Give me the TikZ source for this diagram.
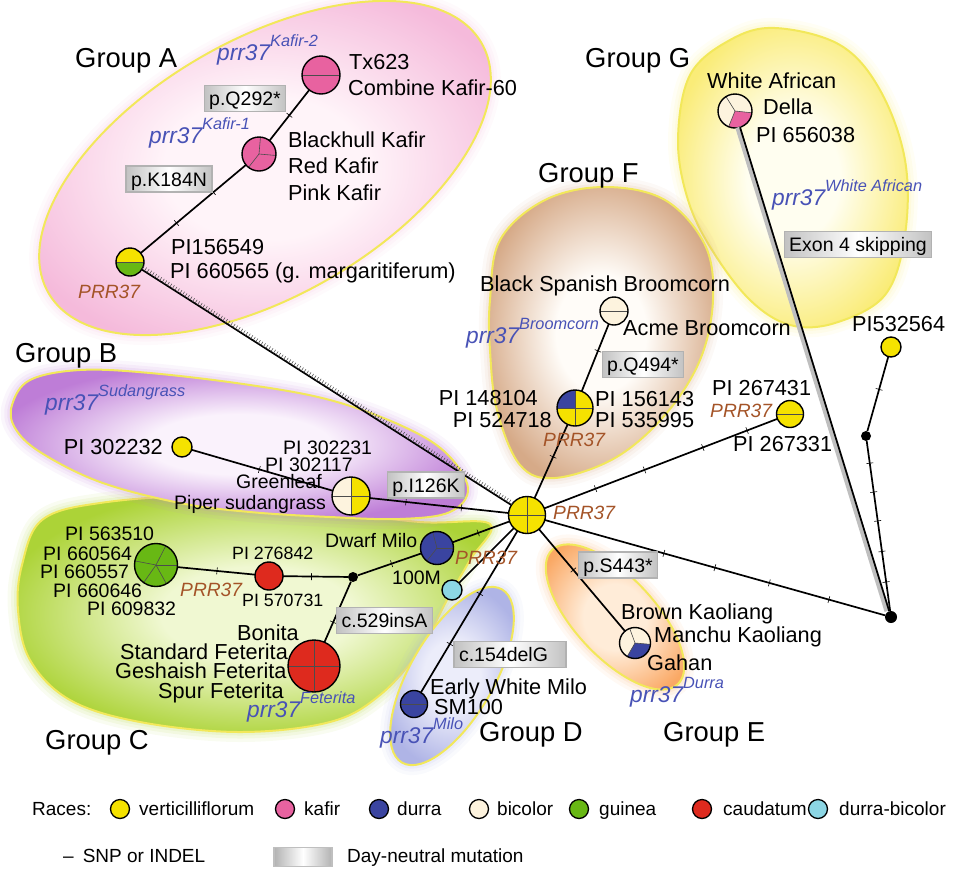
\documentclass[tikz,border=0pt]{standalone}
\usepackage{fontspec}
\setmainfont{Liberation Sans}
\usetikzlibrary{decorations.pathreplacing,decorations.markings}

\definecolor{cyel}{RGB}{245,226,0}
\definecolor{ckaf}{RGB}{232,98,160}
\definecolor{cdur}{RGB}{58,68,160}
\definecolor{cbic}{RGB}{253,243,222}
\definecolor{cgui}{RGB}{104,184,20}
\definecolor{ccau}{RGB}{222,42,30}
\definecolor{cdb}{RGB}{140,214,228}
\definecolor{prrblue}{RGB}{72,82,182}
\definecolor{prrbrown}{RGB}{164,84,40}
\definecolor{rim}{RGB}{242,232,90}
\definecolor{bpink}{RGB}{245,186,219}
\definecolor{ipink}{RGB}{255,244,249}
\definecolor{bpur}{RGB}{190,125,215}
\definecolor{ipur}{RGB}{250,242,252}
\definecolor{bgrn}{RGB}{172,211,55}
\definecolor{igrn}{RGB}{240,248,210}
\definecolor{bbrn}{RGB}{214,170,136}
\definecolor{ibrn}{RGB}{255,252,248}
\definecolor{bylw}{RGB}{250,236,120}
\definecolor{iylw}{RGB}{255,254,240}
\definecolor{blav}{RGB}{175,180,230}
\definecolor{ilav}{RGB}{236,237,250}
\definecolor{bora}{RGB}{250,168,100}
\definecolor{iora}{RGB}{255,236,216}
\colorlet{bin}{white}
\colorlet{bout}{gray}
\pgfdeclareradialshading[bin,bout]{blobshade}{\pgfpointorigin}{color(0bp)=(bin); color(10bp)=(bin); color(27bp)=(bout); color(50bp)=(bout)}

\newcommand{\prr}[1]{prr37\raisebox{14pt}{\fontsize{16.3}{17}\selectfont #1}}
\newcommand{\pcut}[1]{\draw[line width=.6pt, black!70] (path picture bounding box.center) -- ++(#1:40pt);}
\newcommand{\pfill}[3]{\fill[#1] (path picture bounding box.center) -- ++(#2:40pt) arc[start angle=#2, end angle=#3, radius=40pt] -- cycle;}

\tikzset{
  hap/.style={circle, draw, line width=1.4pt, inner sep=0pt, outer sep=0pt, minimum size=#1},
  dot/.style={circle, fill, inner sep=0pt, minimum size=#1},
  edge/.style={line width=1.7pt},
  snp/.style={postaction={decorate, decoration={markings, mark=at position #1 with {\draw[line width=.6pt] (0pt,-3.5pt) -- (0pt,3.5pt);}}}},
  lbl/.style={inner sep=0pt, font=\fontsize{21.7}{22}\selectfont, text height=15.5pt, text depth=0pt},
  lblm/.style={lbl, font=\fontsize{19.5}{20}\selectfont, text height=14pt},
  lbls/.style={lbl, font=\fontsize{17.8}{18}\selectfont, text height=12.8pt},
  grp/.style={lbl, font=\fontsize{27.4}{28}\selectfont, text height=19.6pt},
  leg/.style={lbl, font=\fontsize{19}{20}\selectfont, text height=13.6pt},
  allele/.style={inner sep=0pt, text=prrblue, font=\fontsize{22.7}{23}\selectfont\itshape, anchor=base west},
  wt/.style={lbl, text=prrbrown, font=\fontsize{19.2}{20}\selectfont\itshape, text height=13.8pt},
  mut/.style={draw=black!30, line width=1.3pt, left color=black!24, right color=black!24, middle color=white,
    inner xsep=5pt, inner ysep=6pt, font=\fontsize{19.5}{20}\selectfont, text height=14pt, text depth=0pt},
  blob/.style 2 args={draw=rim, line width=2pt, /utils/exec={\colorlet{bout}{#1}\colorlet{bin}{#2}},
    shade, shading=blobshade,
    preaction={draw=#1, line width=20pt, opacity=.07}, preaction={draw=#1, line width=13pt, opacity=.09},
    preaction={draw=#1, line width=7pt, opacity=.12}},
  key/.style={circle, draw, line width=1.3pt, inner sep=0pt, minimum size=19pt, fill=#1},
}

\begin{document}
\begin{tikzpicture}[x=1pt,y=-1pt]
\useasboundingbox (0,0) rectangle (953,868);

\path[blob={bpink}{ipink}, rotate around={30:(265,168)}] (265,168) ellipse[x radius=250pt, y radius=128pt];
\path[blob={bylw}{iylw}] plot[smooth cycle, tension=.6] coordinates {(678,140) (690,75) (730,40) (775,28) (840,45) (880,90) (905,160) (905,235) (885,295) (835,323) (790,325) (750,300) (712,250) (688,200)};
\path[blob={bbrn}{ibrn}] plot[smooth cycle, tension=.6] coordinates {(490,300) (500,240) (545,200) (605,187) (665,200) (705,245) (713,300) (700,360) (665,415) (615,458) (555,478) (520,465) (497,410) (490,350)};
\path[blob={bgrn}{igrn}] plot[smooth cycle, tension=.6] coordinates {(22,565) (42,520) (100,503) (200,497) (320,510) (420,522) (490,524) (470,560) (447,600) (420,650) (380,695) (330,722) (240,732) (140,722) (70,700) (30,660) (18,610)};
\path[blob={bpur}{ipur}] plot[smooth cycle, tension=.6] coordinates {(12,405) (30,380) (80,370) (150,373) (250,385) (330,400) (400,425) (445,452) (468,488) (450,512) (400,519) (330,517) (250,512) (180,503) (100,482) (40,452) (15,428)};
\path[blob={blav}{ilav}, rotate around={60:(452,676)}] (452,676) ellipse[x radius=100pt, y radius=42pt];
\path[blob={bora}{iora}, rotate around={-47:(615,617)}] (615,617) ellipse[x radius=92pt, y radius=40pt];

\node[hap=37pt, fill=cyel, path picture={\pcut{0}\pcut{90}\pcut{180}\pcut{270}}] (hub) at (527,515) {};
\node[hap=38pt, fill=ckaf, path picture={\pcut{0}\pcut{180}}] (tx) at (321,75) {};
\node[hap=34pt, fill=ckaf, path picture={\pcut{85}\pcut{-5}\pcut{232}}] (bh) at (259,154) {};
\node[hap=28pt, fill=cgui, path picture={\pfill{cyel}{0}{180}\pcut{0}\pcut{180}}] (pig) at (130,262) {};
\node[hap=34pt, fill=cbic, path picture={\pfill{ckaf}{-112}{-6}\pcut{122}\pcut{-6}\pcut{-112}}] (wa) at (735,111) {};
\node[hap=28pt, fill=cbic, path picture={\pcut{0}\pcut{180}}] (acme) at (614,311) {};
\node[hap=36pt, fill=cyel, path picture={\pfill{cdur}{90}{180}\pcut{0}\pcut{90}\pcut{180}\pcut{270}}] (pib) at (575,408) {};
\node[hap=27pt, fill=cyel, path picture={\pcut{0}\pcut{180}}] (piy) at (790,414) {};
\node[hap=20pt, fill=cyel] (pis) at (891,347) {};
\node[dot=10pt] (mdot) at (866,436) {};
\node[dot=12pt] (rdot) at (891,617) {};
\node[hap=38pt, fill=cyel, path picture={\pfill{cbic}{90}{270}\pcut{0}\pcut{90}\pcut{180}\pcut{270}}] (piper) at (351,496) {};
\node[hap=20pt, fill=cyel] (pia) at (182,447) {};
\node[hap=43pt, fill=cgui, path picture={\pcut{0}\pcut{63}\pcut{169}\pcut{235}\pcut{299}}] (gui) at (156,565) {};
\node[hap=28pt, fill=ccau] (cau) at (269,576) {};
\node[dot=10pt] (jdot) at (353,577) {};
\node[hap=33pt, fill=cdur, path picture={\pcut{105}\pcut{0}\pcut{232}}] (milo) at (437,548) {};
\node[hap=52pt, fill=ccau, path picture={\pcut{0}\pcut{90}\pcut{180}\pcut{270}}] (bon) at (314,666) {};
\node[hap=20pt, fill=cdb] (db) at (452,590) {};
\node[hap=27pt, fill=cdur, path picture={\pcut{0}\pcut{180}}] (ewm) at (414,704) {};
\node[hap=31pt, fill=cbic, path picture={\pfill{cdur}{-120}{-5}\pcut{110}\pcut{-5}\pcut{-120}}] (bk) at (635,643) {};

\draw[edge, snp=.5] (tx) -- (bh);
\draw[edge, snp=.31, snp=.66] (bh) -- (pig);
\draw[edge, postaction={draw=black!70, line width=.55pt, decorate, decoration={ticks, segment length=3pt, amplitude=2pt, raise=2.2pt}}] (pig) -- (hub);
\draw[line width=5.5pt, black!25, transform canvas={xshift=-2pt}] (wa) -- (rdot);
\draw[edge] (wa) -- (rdot);
\draw[edge, snp=.40] (acme) -- (pib);
\draw[edge, snp=.44] (pib) -- (hub);
\draw[edge, snp=.22, snp=.43, snp=.68, snp=.87] (hub) -- (piy);
\draw[edge, snp=.35, snp=.50, snp=.66, snp=.835] (hub) -- (rdot);
\draw[edge, snp=.13, snp=.30, snp=.47, snp=.65, snp=.83] (mdot) -- (rdot);
\draw[edge, snp=.56] (mdot) -- (pis);
\draw[edge, snp=.48] (pia) -- (piper);
\draw[edge, snp=.26, snp=.66] (piper) -- (hub);
\draw[edge, snp=.51] (gui) -- (cau);
\draw[edge, snp=.44] (cau) -- (jdot);
\draw[edge, snp=.53] (jdot) -- (milo);
\draw[edge, snp=.67] (jdot) -- (bon);
\draw[edge, snp=.45] (milo) -- (hub);
\draw[edge] (hub) -- (db);
\draw[edge, snp=.39, snp=.70] (hub) -- (ewm);
\draw[edge, snp=.40] (hub) -- (bk);

\node[grp, anchor=west] (gA) at (75,58) {Group A};
\node[grp, anchor=west] (gB) at (15,353) {Group B};
\node[grp, anchor=west] (gC) at (45,740) {Group C};
\node[grp, anchor=west] (gD) at (479,732) {Group D};
\node[grp, anchor=west] (gE) at (663,732) {Group E};
\node[grp, anchor=west] (gF) at (538,173) {Group F};
\node[grp, anchor=west] (gG) at (585,58) {Group G};

\node[lbl, anchor=west] (l1) at (349,62) {Tx623};
\node[lbl, anchor=west] (l2) at (348,88) {Combine Kafir-60};
\node[lbl, anchor=west] (l3) at (288,140) {Blackhull Kafir};
\node[lbl, anchor=west] (l4) at (288,166) {Red Kafir};
\node[lbl, anchor=west] (l5) at (288,193) {Pink Kafir};
\node[lbl, anchor=west] (l6) at (171,247) {PI156549};
\node[lbl, anchor=west] (l7) at (170,271) {PI 660565 (g. margaritiferum)};
\node[lbl, anchor=west] (l8) at (707,81) {White African};
\node[lbl, anchor=west] (l9) at (763,107) {Della};
\node[lbl, anchor=west] (l10) at (756,135) {PI 656038};
\node[lbl, anchor=west] (l11) at (480,284) {Black Spanish Broomcorn};
\node[lbl, anchor=west] (l12) at (623,328) {Acme Broomcorn};
\node[lbl, anchor=east] (l13) at (538,398) {PI 148104};
\node[lbl, anchor=east] (l14) at (552,420) {PI 524718};
\node[lbl, anchor=west] (l15) at (595,399) {PI 156143};
\node[lbl, anchor=west] (l16) at (595,420) {PI 535995};
\node[lbl, anchor=west] (l17) at (712,388) {PI 267431};
\node[lbl, anchor=west] (l18) at (733,444) {PI 267331};
\node[lbl, anchor=west] (l19) at (852,324) {PI532564};
\node[lbl, anchor=east] (l20) at (163,447) {PI 302232};
\node[lblm, anchor=west] (l21) at (283,447) {PI 302231};
\node[lblm, anchor=west] (l22) at (265,464) {PI 302117};
\node[lblm, anchor=west] (l23) at (236,481) {Greenleaf};
\node[lblm, anchor=west] (l24) at (174,502) {Piper sudangrass};
\node[lblm, anchor=west] (l25) at (65,533) {PI 563510};
\node[lblm, anchor=west] (l26) at (43,553) {PI 660564};
\node[lblm, anchor=west] (l27) at (40,571) {PI 660557};
\node[lblm, anchor=west] (l28) at (53,590) {PI 660646};
\node[lblm, anchor=west] (l29) at (87,608) {PI 609832};
\node[lbls, anchor=west] (l30) at (232,553) {PI 276842};
\node[lbls, anchor=west] (l31) at (242,600) {PI 570731};
\node[lblm, anchor=west] (l32) at (325,540) {Dwarf Milo};
\node[lblm, anchor=west] (l33) at (392,577) {100M};
\node[lbl, anchor=west] (l34) at (237,633) {Bonita};
\node[lbl, anchor=west] (l35) at (120,652) {Standard Feterita};
\node[lbl, anchor=west] (l36) at (115,671) {Geshaish Feterita};
\node[lbl, anchor=west] (l37) at (158,691) {Spur Feterita};
\node[lbl, anchor=west] (l38) at (430,687) {Early White Milo};
\node[lbl, anchor=west] (l39) at (434,707) {SM100};
\node[lbl, anchor=west] (l40) at (621,612) {Brown Kaoliang};
\node[lbl, anchor=west] (l41) at (654,635) {Manchu Kaoliang};
\node[lbl, anchor=west] (l42) at (647,663) {Gahan};

\node[wt, anchor=west] (w1) at (78,292) {PRR37};
\node[wt, anchor=west] (w2) at (543,440) {PRR37};
\node[wt, anchor=west] (w3) at (710,411) {PRR37};
\node[wt, anchor=west] (w4) at (553,513) {PRR37};
\node[wt, anchor=west] (w5) at (455,558) {PRR37};
\node[wt, anchor=west] (w6) at (180,590) {PRR37};

\node[allele] (a1) at (217,60) {\prr{Kafir-2}};
\node[allele] (a2) at (149,143) {\prr{Kafir-1}};
\node[allele] (a3) at (772,205) {\prr{White African}};
\node[allele] (a4) at (466,343) {\prr{Broomcorn}};
\node[allele] (a5) at (45,410) {\prr{Sudangrass}};
\node[allele] (a6) at (247,717) {\prr{Feterita}};
\node[allele] (a7) at (380,743) {\prr{Milo}};
\node[allele] (a8) at (630,702) {\prr{Durra}};

\node[mut] (m1) at (245,98.5) {p.Q292*};
\node[mut] (m2) at (169,179) {p.K184N};
\node[mut] (m3) at (858,244.5) {Exon 4 skipping};
\node[mut] (m4) at (643,364.5) {p.Q494*};
\node[mut] (m5) at (426,485) {p.I126K};
\node[mut] (m6) at (384.5,620.5) {c.529insA};
\node[mut] (m7) at (510,654.5) {c.154delG\hspace*{13pt}};
\node[mut] (m8) at (618,565) {p.S443*};

\node[leg, anchor=west] (races) at (32,809) {Races:};
\node[key=cyel] (k1) at (120,809) {};
\node[leg, anchor=west] (t1) at (139,809) {verticilliflorum};
\node[key=ckaf] (k2) at (285,809) {};
\node[leg, anchor=west] (t2) at (304,809) {kafir};
\node[key=cdur] (k3) at (379,809) {};
\node[leg, anchor=west] (t3) at (397,809) {durra};
\node[key=cbic] (k4) at (479,809) {};
\node[leg, anchor=west] (t4) at (497,809) {bicolor};
\node[key=cgui] (k5) at (579,809) {};
\node[leg, anchor=west] (t5) at (599,809) {guinea};
\node[key=ccau] (k6) at (702,809) {};
\node[leg, anchor=west] (t6) at (723,809) {caudatum};
\node[key=cdb] (k7) at (818,809) {};
\node[leg, anchor=west] (t7) at (839,809) {durra-bicolor};
\node[leg, anchor=west] (snpkey) at (63,856) {–\hspace{9pt}SNP or INDEL};
\node[draw=black!25, line width=1.3pt, left color=black!30, right color=black!30, middle color=white, minimum width=58pt, minimum height=19pt] (dnkey) at (303,857) {};
\node[leg, anchor=west] (dntext) at (347,856) {Day-neutral mutation};
\end{tikzpicture}
\end{document}
